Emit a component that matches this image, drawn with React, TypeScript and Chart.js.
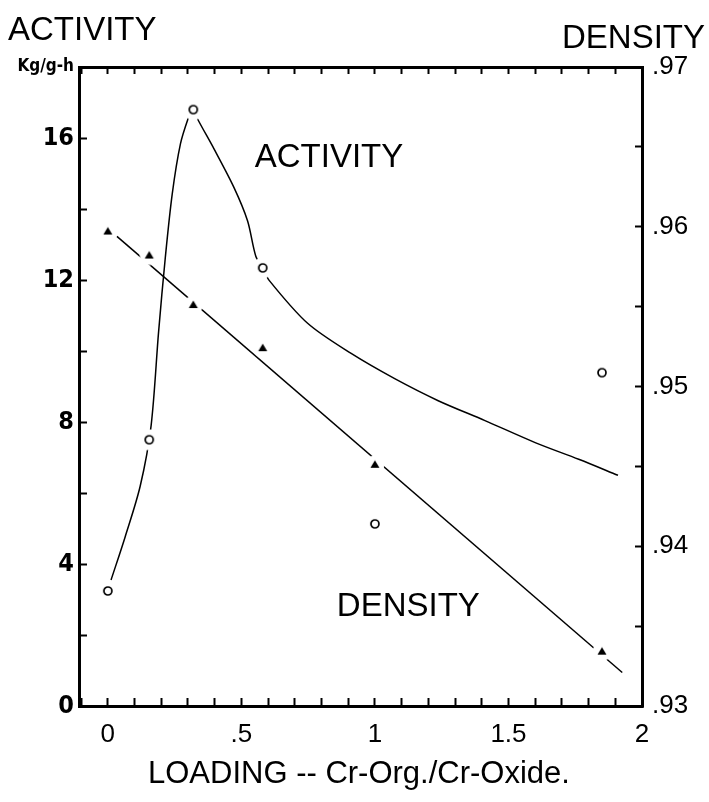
import React, { useEffect, useRef } from 'react';
import { Chart, registerables } from 'chart.js';

Chart.register(...registerables);

const loading = [0, 0.155, 0.32, 0.58, 1.0, 1.85];
const activityPoints = [3.24, 7.5, 16.8, 12.34, 5.13, 9.39];
const densityPoints = [0.9597, 0.9582, 0.9551, 0.9524, 0.9451, 0.9334];

// Hand-drawn activity curve
const activityCurveX = [0.012, 0.065, 0.121, 0.162, 0.19, 0.215, 0.241, 0.272, 0.303, 0.318, 0.335, 0.397, 0.472, 0.523, 0.554, 0.58, 0.604, 0.748, 0.911, 1.074, 1.237, 1.412, 1.6, 1.763, 1.91];
const activityCurveY = [3.55, 4.77, 6.19, 7.9, 10.54, 12.62, 14.42, 15.84, 16.6, 16.85, 16.55, 15.7, 14.61, 13.67, 12.67, 12.34, 11.99, 10.78, 9.93, 9.22, 8.6, 8.04, 7.42, 6.95, 6.5];

// Density straight line
const densityLineX = [0.034, 1.926];
const densityLineY = [0.9594, 0.9321];

// Axis setup
const xMin = -0.108;
const xMax = 2.0;
const activityMin = 0;
const activityMax = 18;
const densityMin = 0.93;
const densityMax = 0.97;

const titleLeft = 'ACTIVITY';
const titleRight = 'DENSITY';
const xTitle = 'LOADING -- Cr-Org./Cr-Oxide.';
const unitLabel = 'Kg/g-h';
const inPlotLabels = [
  { text: 'ACTIVITY', x: 0.828, y: 15.43 },
  { text: 'DENSITY', x: 1.125, y: 2.78 },
];

const SANS = "'Liberation Sans', Arial, Helvetica, sans-serif";
const NARROW = "'Liberation Sans Narrow', 'DejaVu Sans Condensed', 'Liberation Sans', sans-serif";

const isMult = (v: number, m: number) => Math.abs(v / m - Math.round(v / m)) < 1e-6;

// Marker symbols with a white halo (gives the broken-line look of the original)
function makeCircleSymbol(): HTMLCanvasElement {
  const c = document.createElement('canvas');
  c.width = 22; c.height = 22;
  const g = c.getContext('2d')!;
  g.fillStyle = '#fff';
  g.beginPath(); g.arc(11, 11, 10.5, 0, Math.PI * 2); g.fill();
  g.strokeStyle = '#000'; g.lineWidth = 1.7;
  g.beginPath(); g.arc(11, 11, 4, 0, Math.PI * 2); g.stroke();
  return c;
}
function makeTriangleSymbol(): HTMLCanvasElement {
  const c = document.createElement('canvas');
  c.width = 20; c.height = 20;
  const g = c.getContext('2d')!;
  g.fillStyle = '#fff';
  g.beginPath(); g.arc(10, 10, 9.5, 0, Math.PI * 2); g.fill();
  g.fillStyle = '#000';
  g.beginPath(); g.moveTo(10, 5.5); g.lineTo(14.5, 13); g.lineTo(5.5, 13); g.closePath(); g.fill();
  return c;
}

const labelPlugin = {
  id: 'inPlotLabels',
  afterDatasetsDraw(chart: any) {
    const { ctx, scales } = chart;
    ctx.save();
    ctx.fillStyle = '#000';
    ctx.font = `33px ${SANS}`;
    ctx.textAlign = 'center';
    ctx.textBaseline = 'middle';
    for (const l of inPlotLabels) {
      ctx.fillText(l.text, scales.x.getPixelForValue(l.x), scales.y.getPixelForValue(l.y));
    }
    ctx.restore();
  },
};

export default function App() {
  const ref = useRef<HTMLCanvasElement | null>(null);

  useEffect(() => {
    if (!ref.current) return;
    const pts = (xs: number[], ys: number[]) => xs.map((x, i) => ({ x, y: ys[i] }));
    const circleSym = makeCircleSymbol();
    const triSym = makeTriangleSymbol();
    const chart = new Chart(ref.current, {
      type: 'scatter',
      data: {
        datasets: [
          {
            label: 'Activity',
            data: pts(loading, activityPoints),
            pointStyle: circleSym as any,
            pointRadius: 6,
            yAxisID: 'y',
          },
          {
            label: 'Density',
            data: pts(loading, densityPoints),
            pointStyle: triSym as any,
            pointRadius: 6,
            yAxisID: 'y2',
          },
          {
            label: 'activity curve',
            data: pts(activityCurveX, activityCurveY),
            showLine: true,
            tension: 0.3,
            borderColor: '#000',
            borderWidth: 1.5,
            pointRadius: 0,
            yAxisID: 'y',
          },
          {
            label: 'density line',
            data: pts(densityLineX, densityLineY),
            showLine: true,
            borderColor: '#000',
            borderWidth: 1.5,
            pointRadius: 0,
            yAxisID: 'y2',
          },
        ],
      },
      options: {
        animation: false,
        responsive: false,
        events: [],
        layout: { padding: 0 },
        plugins: { legend: { display: false }, tooltip: { enabled: false } },
        scales: {
          x: {
            type: 'linear',
            position: 'bottom',
            min: xMin,
            max: xMax,
            afterFit: (s: any) => { s.height = 96; },
            border: { display: true, color: '#000', width: 3 },
            grid: { drawOnChartArea: false, drawTicks: true, tickLength: -8, tickWidth: 2, tickColor: '#000' },
            ticks: {
              stepSize: 0.1,
              maxTicksLimit: 100,
              includeBounds: false,
              autoSkip: false,
              maxRotation: 0,
              padding: 21,
              color: '#000',
              font: { family: SANS, size: 26 },
              callback: (v: any) => {
                const n = Number(v);
                if (!isMult(n, 0.5)) return '';
                const r = Math.round(n * 2) / 2;
                return String(r).replace(/^0\./, '.');
              },
            },
          },
          x2: {
            type: 'linear',
            position: 'top',
            min: xMin,
            max: xMax,
            afterFit: (s: any) => { s.height = 67; },
            border: { display: true, color: '#000', width: 3 },
            grid: { drawOnChartArea: false, drawTicks: true, tickLength: -7, tickWidth: 2, tickColor: '#000' },
            ticks: {
              stepSize: 0.1,
              maxTicksLimit: 100,
              includeBounds: false,
              autoSkip: false,
              maxRotation: 0,
              font: { family: SANS, size: 10 },
              callback: () => '',
            },
          },
          y: {
            type: 'linear',
            position: 'left',
            min: activityMin,
            max: activityMax,
            afterFit: (s: any) => { s.width = 79; },
            border: { display: true, color: '#000', width: 3 },
            grid: { drawOnChartArea: false, drawTicks: true, tickLength: -8, tickWidth: 2, tickColor: '#000' },
            ticks: {
              stepSize: 2,
              maxTicksLimit: 100,
              autoSkip: false,
              padding: 13,
              color: '#000',
              font: (c: any) =>
                c.tick && Math.abs(c.tick.value - activityMax) < 1e-6
                  ? { family: NARROW, size: 17, weight: 'bold' }
                  : { family: NARROW, size: 25, weight: 'bold' },
              callback: (v: any) => {
                const n = Number(v);
                if (Math.abs(n - activityMax) < 1e-6) return unitLabel;
                return isMult(n, 4) ? String(Math.round(n)) : '';
              },
            },
          },
          y2: {
            type: 'linear',
            position: 'right',
            min: densityMin,
            max: densityMax,
            afterFit: (s: any) => { s.width = 67; },
            border: { display: true, color: '#000', width: 3 },
            grid: { drawOnChartArea: false, drawTicks: true, tickLength: -7, tickWidth: 2, tickColor: '#000' },
            ticks: {
              stepSize: 0.005,
              maxTicksLimit: 100,
              autoSkip: false,
              padding: 17,
              color: '#000',
              font: { family: SANS, size: 26 },
              callback: (v: any) => {
                const n = Number(v);
                return isMult(n, 0.01) ? n.toFixed(2).replace(/^0/, '') : '';
              },
            },
          },
        },
      },
      plugins: [labelPlugin],
    });
    return () => chart.destroy();
  }, []);

  const textBase: React.CSSProperties = {
    position: 'absolute',
    fontFamily: SANS,
    color: '#000',
    lineHeight: 1,
    whiteSpace: 'nowrap',
  };

  return (
    <div style={{ position: 'fixed', left: 0, top: 0, width: 709, height: 802, background: '#fff' }}>
      <canvas ref={ref} width={709} height={802} style={{ display: 'block', width: 709, height: 802 }} />
      <div style={{ ...textBase, left: 8, top: 12, fontSize: 33 }}>{titleLeft}</div>
      <div style={{ ...textBase, right: 4, top: 20, fontSize: 33 }}>{titleRight}</div>
      <div style={{ ...textBase, left: 148, top: 757, fontSize: 31 }}>{xTitle}</div>
    </div>
  );
}
